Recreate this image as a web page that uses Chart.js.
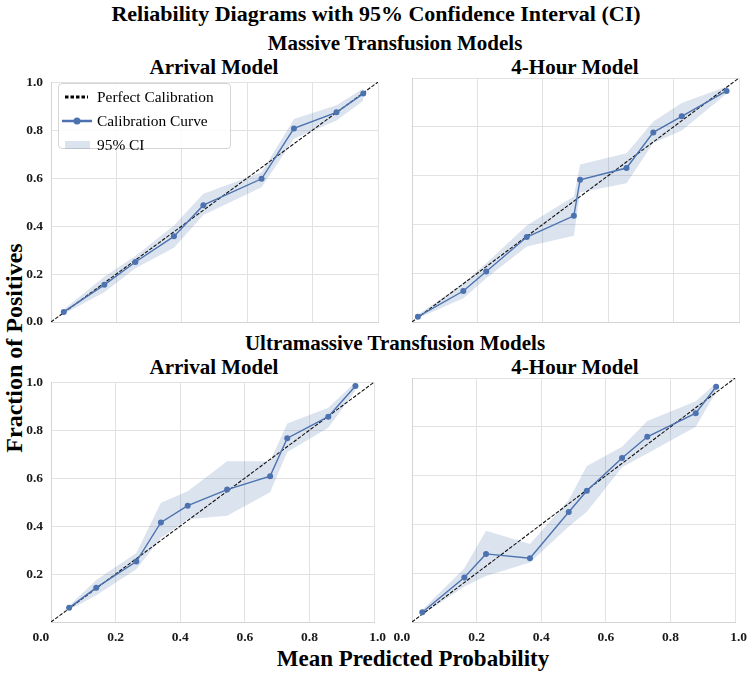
<!DOCTYPE html>
<html>
<head>
<meta charset="utf-8">
<script src="https://cdn.jsdelivr.net/npm/chart.js@4.4.1/dist/chart.umd.min.js"></script>
<style>
  html, body { margin: 0; padding: 0; background: #ffffff; }
  #wrap { position: relative; width: 752px; height: 676px; overflow: hidden; background: #fff;
          font-family: "Liberation Serif", "Times New Roman", serif; color: #000; }
  canvas { position: absolute; }
  .txt { position: absolute; white-space: nowrap; font-weight: bold; line-height: 1; }
  .ctr { transform: translateX(-50%); }
  #legend { position: absolute; left: 58px; top: 83px; width: 171px; height: 64px;
            border: 1px solid #d6d6d6; border-radius: 4px; background: rgba(255,255,255,0.85);
            font-size: 15.4px; z-index: 5; }
  .lrow { position: absolute; left: 0; height: 20px; width: 100%; }
  .lrow svg { position: absolute; left: 3px; top: 0; }
  .lrow span { position: absolute; left: 38px; top: 2px; line-height: 16px; }
</style>
</head>
<body>
<div id="wrap">
  <div class="txt ctr" style="left:376px; top:3px; font-size:22px;">Reliability Diagrams with 95% Confidence Interval (CI)</div>
  <div class="txt ctr" style="left:395px; top:33px; font-size:21px;">Massive Transfusion Models</div>
  <div class="txt ctr" style="left:214px; top:57px; font-size:21px;">Arrival Model</div>
  <div class="txt ctr" style="left:575px; top:57px; font-size:21px;">4-Hour Model</div>
  <div class="txt ctr" style="left:395px; top:333px; font-size:21px;">Ultramassive Transfusion Models</div>
  <div class="txt ctr" style="left:214px; top:357px; font-size:21px;">Arrival Model</div>
  <div class="txt ctr" style="left:575px; top:357px; font-size:21px;">4-Hour Model</div>
  <div class="txt" style="left:413px; top:647px; font-size:23px; transform: translateX(-50%);">Mean Predicted Probability</div>
  <div class="txt" style="left:14px; top:348px; font-size:24px; transform: translate(-50%,-50%) rotate(-90deg);">Fraction of Positives</div>

  <canvas id="c1" width="392" height="286" style="left:1px; top:66px; width:392px; height:286px;"></canvas>
  <canvas id="c2" width="392" height="286" style="left:362px; top:66px; width:392px; height:286px;"></canvas>
  <canvas id="c3" width="392" height="286" style="left:1px; top:366px; width:392px; height:286px;"></canvas>
  <canvas id="c4" width="392" height="286" style="left:362px; top:366px; width:392px; height:286px;"></canvas>

  <div id="legend">
    <div class="lrow" style="top:3px;">
      <svg width="30" height="20"><line x1="3" y1="10" x2="26" y2="10" stroke="#000" stroke-width="3" stroke-dasharray="3.5,2"/></svg>
      <span>Perfect Calibration</span>
    </div>
    <div class="lrow" style="top:27px;">
      <svg width="32" height="20"><line x1="0" y1="10" x2="30" y2="10" stroke="#4C72B0" stroke-width="2.5"/><circle cx="15" cy="10" r="3.5" fill="#4C72B0"/></svg>
      <span>Calibration Curve</span>
    </div>
    <div class="lrow" style="top:51px;">
      <svg width="30" height="20"><rect x="3" y="6" width="25" height="8" fill="rgba(76,114,176,0.2)"/></svg>
      <span>95% CI</span>
    </div>
  </div>
</div>

<script>
// ---- Data ----
// Massive Transfusion – Arrival Model
const mtArrivalX  = [0.039, 0.163, 0.258, 0.376, 0.466, 0.644, 0.743, 0.873, 0.955];
const mtArrivalY  = [0.042, 0.155, 0.250, 0.357, 0.487, 0.597, 0.807, 0.874, 0.952];
const mtArrivalLo = [0.033, 0.124, 0.224, 0.309, 0.446, 0.562, 0.764, 0.840, 0.922];
const mtArrivalHi = [0.052, 0.189, 0.275, 0.402, 0.535, 0.624, 0.846, 0.904, 0.973];

// Massive Transfusion – 4-Hour Model
const mt4hX  = [0.018, 0.157, 0.227, 0.351, 0.495, 0.514, 0.656, 0.738, 0.825, 0.962];
const mt4hY  = [0.022, 0.127, 0.207, 0.348, 0.435, 0.583, 0.631, 0.777, 0.843, 0.947];
const mt4hLo = [0.015, 0.097, 0.179, 0.309, 0.353, 0.531, 0.569, 0.734, 0.785, 0.935];
const mt4hHi = [0.030, 0.159, 0.241, 0.395, 0.514, 0.645, 0.692, 0.822, 0.898, 0.965];

// Ultramassive Transfusion – Arrival Model
const umtArrivalX  = [0.056, 0.140, 0.264, 0.340, 0.423, 0.545, 0.678, 0.731, 0.858, 0.942];
const umtArrivalY  = [0.059, 0.143, 0.252, 0.415, 0.485, 0.552, 0.608, 0.766, 0.856, 0.984];
const umtArrivalLo = [0.050, 0.111, 0.220, 0.350, 0.428, 0.443, 0.541, 0.709, 0.810, 0.965];
const umtArrivalHi = [0.068, 0.175, 0.288, 0.497, 0.545, 0.670, 0.670, 0.827, 0.893, 1.000];

// Ultramassive Transfusion – 4-Hour Model
const umt4hX  = [0.032, 0.162, 0.229, 0.365, 0.485, 0.541, 0.650, 0.728, 0.878, 0.941];
const umt4hY  = [0.040, 0.182, 0.279, 0.261, 0.451, 0.538, 0.672, 0.759, 0.856, 0.964];
const umt4hLo = [0.030, 0.145, 0.189, 0.244, 0.391, 0.452, 0.634, 0.691, 0.800, 0.943];
const umt4hHi = [0.050, 0.220, 0.374, 0.320, 0.500, 0.639, 0.718, 0.824, 0.905, 0.978];

// Perfect calibration reference
const perfectX = [0, 1];
const perfectY = [0, 1];

const tickValues = [0, 0.2, 0.4, 0.6, 0.8, 1.0];

// ---- Styling ----
const BLUE = '#4C72B0';
const BAND = 'rgba(76,114,176,0.2)';
const GRID = '#e2e2e2';
const TICKFONT = { family: '"Liberation Serif", "Times New Roman", serif', size: 13.5, weight: 'bold' };

function pts(xs, ys) { return xs.map((x, i) => ({ x: x, y: ys[i] })); }

function xLabel(v) {
  if (Math.abs(v) < 1e-9) return '0.0\u2002\u2002\u2002';
  if (Math.abs(v - 1) < 1e-9) return '\u20021.0';
  return v.toFixed(1);
}

function makeChart(id, xs, ys, lo, hi, showX, showY, hideY0) {
  const ctx = document.getElementById(id);
  return new Chart(ctx, {
    type: 'line',
    data: {
      datasets: [
        { data: pts(xs, ys), borderColor: BLUE, backgroundColor: BLUE, borderWidth: 1.4,
          pointRadius: 3, pointBorderWidth: 0, pointBackgroundColor: BLUE, fill: false, tension: 0 },
        { data: pts(perfectX, perfectY), borderColor: '#111', borderWidth: 1.1, borderDash: [3.7, 1.6],
          pointRadius: 0, fill: false, tension: 0 },
        { data: pts(xs, hi), borderWidth: 0, borderColor: 'rgba(0,0,0,0)', pointRadius: 0,
          backgroundColor: BAND, fill: '+1', tension: 0 },
        { data: pts(xs, lo), borderWidth: 0, borderColor: 'rgba(0,0,0,0)', pointRadius: 0,
          backgroundColor: BAND, fill: false, tension: 0 }
      ]
    },
    options: {
      responsive: false,
      animation: false,
      events: [],
      layout: { padding: { left: 0, top: 12, right: 15, bottom: 0 } },
      plugins: { legend: { display: false }, tooltip: { enabled: false }, title: { display: false } },
      scales: {
        x: {
          type: 'linear', min: 0, max: 1,
          afterFit: (s) => { s.height = 30; },
          afterBuildTicks: (s) => { s.ticks = tickValues.map(v => ({ value: v })); },
          grid: { color: GRID, lineWidth: 1, drawTicks: false },
          border: { display: true, color: '#d4d4d4', width: 1 },
          ticks: { display: showX, font: TICKFONT, color: '#1a1a1a', padding: 7, maxRotation: 0,
                   autoSkip: false, callback: (v) => xLabel(v) }
        },
        y: {
          type: 'linear', min: 0, max: 1,
          afterFit: (s) => { s.width = 50; },
          afterBuildTicks: (s) => { s.ticks = tickValues.map(v => ({ value: v })); },
          grid: { color: GRID, lineWidth: 1, drawTicks: false },
          border: { display: true, color: '#d4d4d4', width: 1 },
          ticks: { display: showY, font: TICKFONT, color: '#1a1a1a', padding: 8, autoSkip: false,
                   callback: (v) => (hideY0 && Math.abs(v) < 1e-9) ? '' : v.toFixed(1) }
        }
      }
    }
  });
}

makeChart('c1', mtArrivalX, mtArrivalY, mtArrivalLo, mtArrivalHi, false, true, false);
makeChart('c2', mt4hX, mt4hY, mt4hLo, mt4hHi, false, false, false);
makeChart('c3', umtArrivalX, umtArrivalY, umtArrivalLo, umtArrivalHi, true, true, true);
makeChart('c4', umt4hX, umt4hY, umt4hLo, umt4hHi, true, false, false);
</script>
</body>
</html>
